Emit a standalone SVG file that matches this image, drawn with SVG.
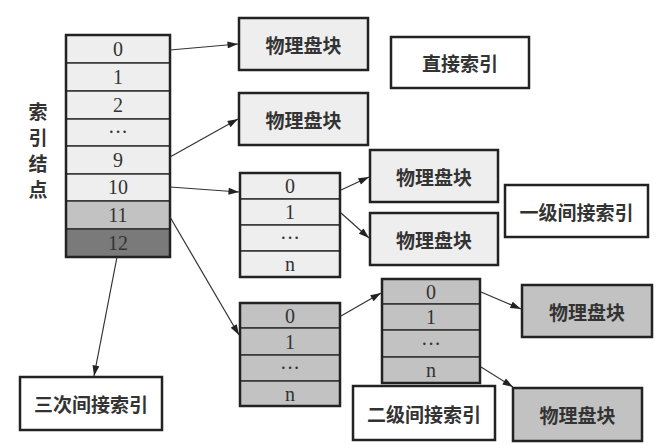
<svg xmlns="http://www.w3.org/2000/svg" width="665" height="445" viewBox="0 0 665 445">
<style>
.cell{stroke:#333;stroke-width:1.5}
.l{fill:#eeeeee}.m{fill:#c2c2c2}.d{fill:#7a7a7a}.w{fill:#ffffff}
.box{stroke:#222;stroke-width:2.5}
.frame{fill:none;stroke:#222;stroke-width:2.5}
.num{font-family:"Liberation Serif",serif;font-size:20px;fill:#333;text-anchor:middle;dominant-baseline:central}
.cjk{font-family:"Noto Sans CJK SC",sans-serif;font-size:19px;font-weight:bold;fill:#333;text-anchor:middle;dominant-baseline:central}
.conn line{stroke:#333;stroke-width:1.2;marker-end:url(#ah)}
</style>
<defs>
<marker id="ah" viewBox="0 0 12 8" refX="12" refY="4" markerWidth="12" markerHeight="7" markerUnits="userSpaceOnUse" orient="auto">
<path d="M0,0 L12,4 L0,8 Z" fill="#222"/>
</marker>
</defs>
<rect width="665" height="445" fill="#fff"/>

<g id="index-node">
<rect class="cell l" x="66" y="35" width="104" height="28"/>
<rect class="cell l" x="66" y="63" width="104" height="28"/>
<rect class="cell l" x="66" y="91" width="104" height="28"/>
<rect class="cell l" x="66" y="119" width="104" height="27"/>
<rect class="cell l" x="66" y="146" width="104" height="28"/>
<rect class="cell l" x="66" y="174" width="104" height="27"/>
<rect class="cell m" x="66" y="201" width="104" height="28"/>
<rect class="cell d" x="66" y="229" width="104" height="28"/>
<rect class="frame" x="66" y="35" width="104" height="222"/>
<text class="num" x="118" y="49">0</text>
<text class="num" x="118" y="77">1</text>
<text class="num" x="118" y="105">2</text>
<text class="num" x="118" y="132">···</text>
<text class="num" x="118" y="160">9</text>
<text class="num" x="118" y="187">10</text>
<text class="num" x="118" y="215">11</text>
<text class="num" x="118" y="243" fill="#222">12</text>
</g>

<g id="index-label">
<text class="cjk" x="38" y="110">索</text>
<text class="cjk" x="38" y="136">引</text>
<text class="cjk" x="38" y="162">结</text>
<text class="cjk" x="38" y="188">点</text>
</g>

<g id="block1"><rect class="box l" x="239" y="18" width="129" height="52"/><text class="cjk" x="303.5" y="44">物理盘块</text></g>
<g id="block2"><rect class="box l" x="239" y="93" width="129" height="52"/><text class="cjk" x="303.5" y="119">物理盘块</text></g>
<g id="direct-label"><rect class="box w" x="391" y="37" width="138" height="51"/><text class="cjk" x="460" y="62.5">直接索引</text></g>

<g id="level1-table">
<rect class="cell l" x="240" y="173" width="100" height="26"/>
<rect class="cell l" x="240" y="199" width="100" height="26"/>
<rect class="cell l" x="240" y="225" width="100" height="26"/>
<rect class="cell l" x="240" y="251" width="100" height="26"/>
<rect class="frame" x="240" y="173" width="100" height="104"/>
<text class="num" x="290" y="186">0</text>
<text class="num" x="290" y="212">1</text>
<text class="num" x="290" y="238">···</text>
<text class="num" x="290" y="264">n</text>
</g>
<g id="block3"><rect class="box l" x="370" y="150" width="128" height="52"/><text class="cjk" x="434" y="176">物理盘块</text></g>
<g id="block4"><rect class="box l" x="370" y="213" width="128" height="52"/><text class="cjk" x="434" y="239">物理盘块</text></g>
<g id="level1-label"><rect class="box w" x="505" y="185" width="143" height="52"/><text class="cjk" x="576.5" y="211">一级间接索引</text></g>

<g id="level2-table-a">
<rect class="cell m" x="240" y="303" width="100" height="25"/>
<rect class="cell m" x="240" y="328" width="100" height="27"/>
<rect class="cell m" x="240" y="355" width="100" height="26"/>
<rect class="cell m" x="240" y="381" width="100" height="25"/>
<rect class="frame" x="240" y="303" width="100" height="103"/>
<text class="num" x="290" y="315.5">0</text>
<text class="num" x="290" y="341.5">1</text>
<text class="num" x="290" y="368">···</text>
<text class="num" x="290" y="393.5">n</text>
</g>
<g id="level2-table-b">
<rect class="cell m" x="382" y="279" width="98" height="25"/>
<rect class="cell m" x="382" y="304" width="98" height="26"/>
<rect class="cell m" x="382" y="330" width="98" height="27"/>
<rect class="cell m" x="382" y="357" width="98" height="26"/>
<rect class="frame" x="382" y="279" width="98" height="104"/>
<text class="num" x="431" y="291.5">0</text>
<text class="num" x="431" y="317">1</text>
<text class="num" x="431" y="343.5">···</text>
<text class="num" x="431" y="370">n</text>
</g>
<g id="block5"><rect class="box m" x="522" y="285" width="130" height="52"/><text class="cjk" x="587" y="311">物理盘块</text></g>
<g id="block6"><rect class="box m" x="513" y="388" width="129" height="53"/><text class="cjk" x="577.5" y="414.5">物理盘块</text></g>
<g id="level2-label"><rect class="box w" x="353" y="386" width="142" height="54"/><text class="cjk" x="424" y="413">二级间接索引</text></g>
<g id="level3-label"><rect class="box w" x="20" y="377" width="142" height="53"/><text class="cjk" x="91" y="403.5">三次间接索引</text></g>

<g class="conn" id="connectors">
<line x1="170" y1="50" x2="238" y2="44"/>
<line x1="170" y1="157" x2="238" y2="119"/>
<line x1="170" y1="187" x2="239" y2="192"/>
<line x1="170" y1="217" x2="239" y2="335"/>
<line x1="117" y1="257" x2="94" y2="376"/>
<line x1="341" y1="190" x2="369" y2="177"/>
<line x1="341" y1="213" x2="369" y2="238"/>
<line x1="341" y1="316" x2="381" y2="293"/>
<line x1="481" y1="292" x2="521" y2="309"/>
<line x1="481" y1="367" x2="513" y2="387"/>
</g>
</svg>
